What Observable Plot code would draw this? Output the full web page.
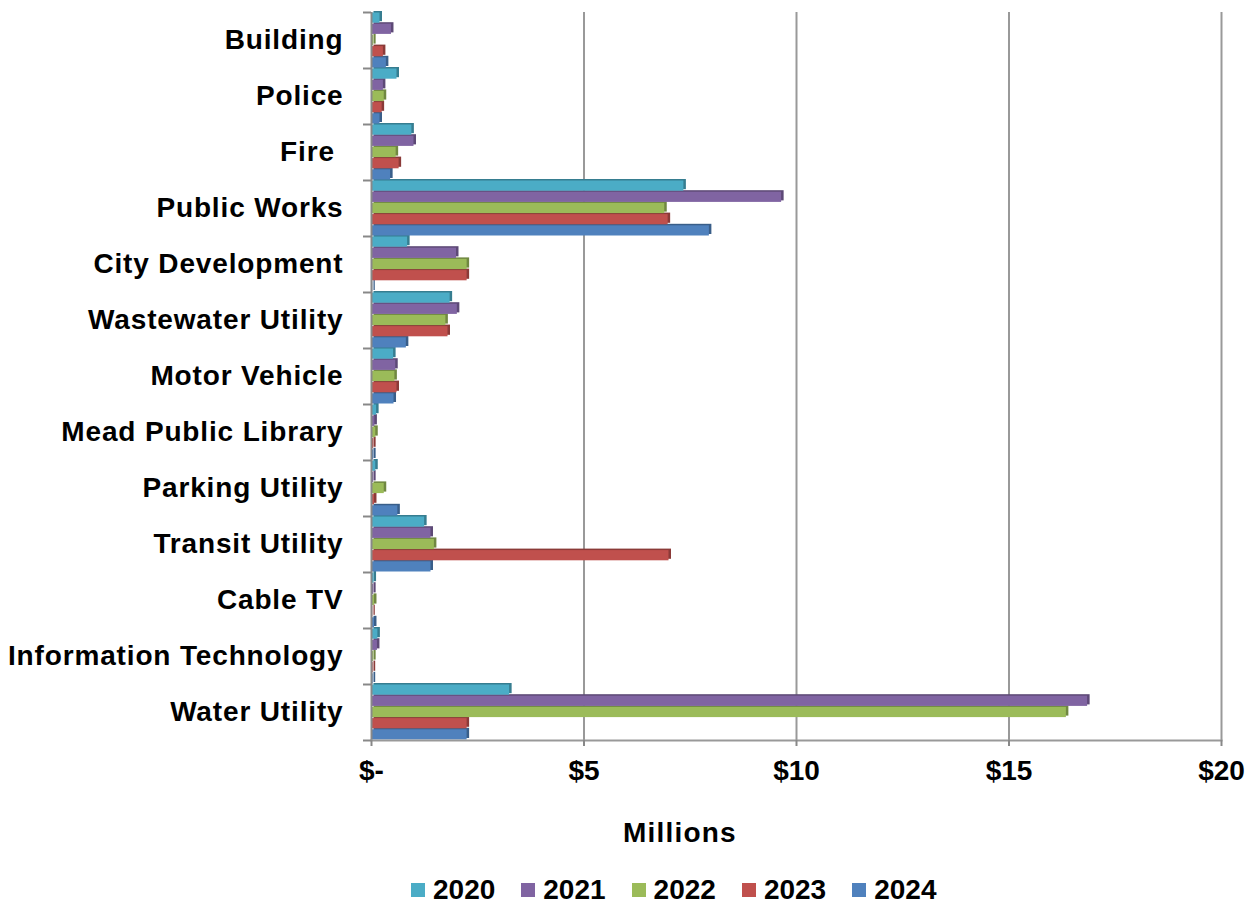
<!DOCTYPE html>
<html>
<head>
<meta charset="utf-8">
<script src="https://cdn.jsdelivr.net/npm/d3@7"></script>
<script src="https://cdn.jsdelivr.net/npm/@observablehq/plot@0.6"></script>
<style>
  body { margin: 0; background: #fff; font-family: "Liberation Sans", Arial, sans-serif; }
  #wrap { width: 1251px; }
  #xlabel { font-weight: bold; font-size: 28px; line-height: 28px; margin-top: 19px; width: 1251px; text-align: left; padding-left: 623px; box-sizing: border-box; letter-spacing: 1.2px; }
  #legend { display: flex; margin-top: 29px; padding-left: 411px; font-weight: bold; font-size: 28px; line-height: 28px; }
  .item { display: flex; align-items: center; margin-right: 26px; }
  .sw { width: 14px; height: 14px; margin-right: 8px; }
</style>
</head>
<body>
<div id="wrap">
  <div id="chart"></div>
  <div id="xlabel">Millions</div>
  <div id="legend"></div>
</div>
<script>
const categories = ["Building", "Police", "Fire ", "Public Works", "City Development", "Wastewater Utility", "Motor Vehicle", "Mead Public Library", "Parking Utility", "Transit Utility", "Cable TV", "Information Technology", "Water Utility"];
const years = ["2020", "2021", "2022", "2023", "2024"];
const colors = ["#4BACC6", "#8064A2", "#9BBB59", "#C0504D", "#4F81BD"];
const v2020 = [0.2, 0.6, 0.95, 7.35, 0.85, 1.85, 0.52, 0.12, 0.1, 1.25, 0.06, 0.15, 3.25];
const v2021 = [0.47, 0.28, 1.0, 9.65, 2.0, 2.02, 0.57, 0.08, 0.05, 1.4, 0.05, 0.14, 16.85];
const v2022 = [0.05, 0.3, 0.58, 6.9, 2.25, 1.75, 0.55, 0.1, 0.3, 1.48, 0.07, 0.05, 16.35];
const v2023 = [0.28, 0.25, 0.65, 6.98, 2.25, 1.8, 0.6, 0.05, 0.07, 7.0, 0.03, 0.04, 2.25];
const v2024 = [0.35, 0.2, 0.45, 7.95, 0.03, 0.82, 0.53, 0.05, 0.62, 1.4, 0.07, 0.04, 2.25];
const xTicks = [0, 5, 10, 15, 20];

const series = [v2020, v2021, v2022, v2023, v2024];
const data = [];
categories.forEach((c, i) => {
  years.forEach((y, j) => {
    data.push({category: c, year: y, key: c + "|" + y, value: series[j][i]});
  });
});
const keys = data.map(d => d.key);
const font = '"Liberation Sans", Arial, sans-serif';
const plotTop = 12, plotBottom = 740;
const band = (plotBottom - plotTop) / keys.length;

const shadowMarks = years.map((y, j) =>
  Plot.barX(data.filter(d => d.year === y), {
    x: "value", y: "key", fill: d3.color(colors[j]).darker(0.9).formatHex(), dx: 2.5, dy: -1.5, insetTop: 0.5, insetBottom: 0.5
  })
);

const chart = Plot.plot({
  width: 1251,
  height: 800,
  marginTop: plotTop,
  marginBottom: 800 - plotBottom,
  marginLeft: 371,
  marginRight: 30,
  style: {fontFamily: font, background: "#fff"},
  x: {domain: [0, 20], axis: null},
  y: {type: "band", domain: keys, padding: 0, round: false, axis: null},
  color: {domain: years, range: colors},
  marks: [
    Plot.ruleX(xTicks.slice(1), {stroke: "#999", strokeWidth: 2}),
    ...shadowMarks,
    Plot.barX(data, {x: "value", y: "key", fill: "year", insetTop: 0.5, insetBottom: 0.5}),
    Plot.ruleX([0], {stroke: "#888", strokeWidth: 2}),
    Plot.frame({anchor: "bottom", stroke: "#999", strokeWidth: 2}),
    Plot.axisX({ticks: xTicks, tickSize: 6, tickPadding: 14, stroke: "#888", strokeWidth: 2,
      tickFormat: d => d === 0 ? "$-" : "$" + d, fontSize: 28, fontWeight: "bold", fill: "#000", label: null}),
    Plot.axisY({ticks: keys.filter(k => k.endsWith("|2022")), tickSize: 0, tickPadding: 28,
      tickFormat: k => k.split("|")[0].replace(/ $/, "\u00a0"), fontSize: 28, fontWeight: "bold", fill: "#000", label: null}),
    Plot.axisY({ticks: keys.filter(k => k.endsWith("|2020")), tickSize: 8, stroke: "#888", strokeWidth: 2,
      tickFormat: () => "", dy: -band / 2, label: null}),
    Plot.axisY({ticks: [keys[keys.length - 1]], tickSize: 8, stroke: "#888", strokeWidth: 2,
      tickFormat: () => "", dy: band / 2, label: null})
  ]
});
d3.select(chart).selectAll('g[aria-label="y-axis tick label"] text').style("letter-spacing", "0.85px");
document.getElementById("chart").appendChild(chart);

const legend = document.getElementById("legend");
years.forEach((y, j) => {
  const it = document.createElement("div");
  it.className = "item";
  const sw = document.createElement("div");
  sw.className = "sw";
  sw.style.background = colors[j];
  const t = document.createElement("span");
  t.textContent = y;
  it.appendChild(sw);
  it.appendChild(t);
  legend.appendChild(it);
});
</script>
</body>
</html>
